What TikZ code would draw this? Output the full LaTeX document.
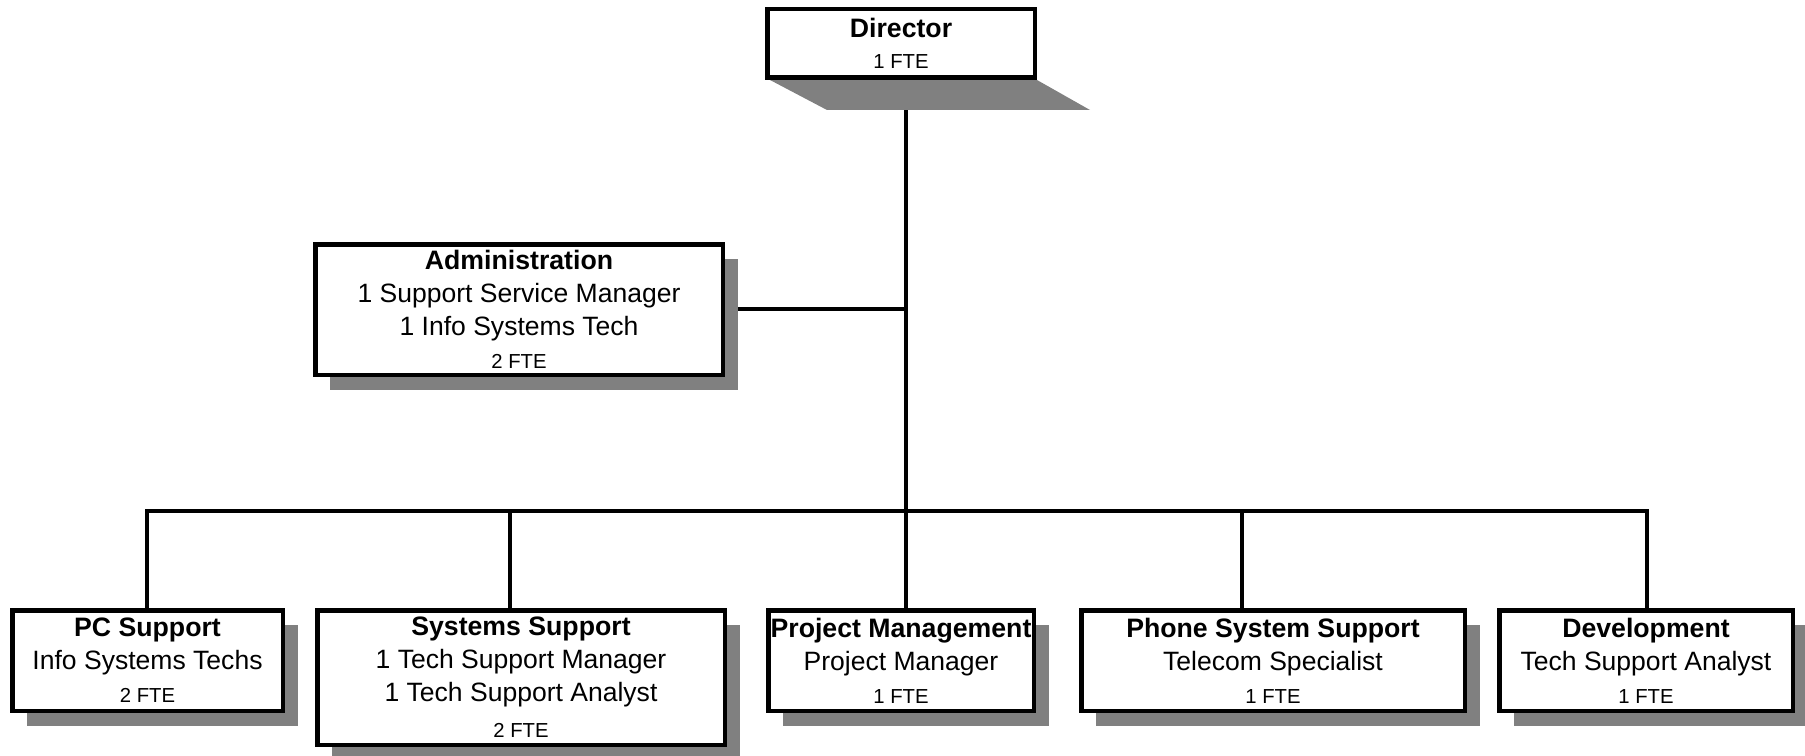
\documentclass[tikz,border=0pt]{standalone}
\usepackage{fontspec}
\setmainfont{Liberation Sans}
\usetikzlibrary{shadows,backgrounds,calc}
\definecolor{shd}{HTML}{808080}
\newcommand\ttl[1]{{\fontsize{20}{24.75}\selectfont\bfseries #1}}
\newcommand\rgl[1]{{\fontsize{19.9}{24.75}\selectfont #1}}
\newcommand\fte[1]{{\fontsize{15.2}{24.75}\selectfont #1}}
\tikzset{
  boxbase/.style={draw=black, fill=white, line width=3.375pt, inner sep=0pt,
    align=center, font=\fontsize{19.9}{24.75}\selectfont},
  box/.style={boxbase, drop shadow={shadow xshift=11.25pt, shadow yshift=-11.25pt, fill=shd, opacity=1}},
  conn/.style={draw=black, line width=2.4pt},
}
\begin{document}
\begin{tikzpicture}[x=0.75pt, y=-0.75pt]
\useasboundingbox (0,0) rectangle (1805,756);
% director shadow (parallelogram)
\fill[shd] (770,80) -- (1037,80) -- (1090,110) -- (827,110) -- cycle;
\node[boxbase, minimum width=267.5*0.75pt, minimum height=68.5*0.75pt] (dir) at (901,43.5)
  {\ttl{Director}\\[-1.5pt]\fte{1 FTE}};
\node[box, minimum width=407.5*0.75pt, minimum height=130.5*0.75pt] (adm) at (519,309.5)
  {\ttl{Administration}\\\rgl{1 Support Service Manager}\\\rgl{1 Info Systems Tech}\\\fte{2 FTE}};
\node[box, minimum width=270.5*0.75pt, minimum height=100.5*0.75pt] (pc) at (147.5,660.5)
  {\ttl{PC Support}\\\rgl{Info Systems Techs}\\\fte{2 FTE}};
\node[box, minimum width=407.5*0.75pt, minimum height=134.5*0.75pt] (sys) at (521,677.5)
  {\ttl{Systems Support}\\\rgl{1 Tech Support Manager}\\\rgl{1 Tech Support Analyst}\\[2pt]\fte{2 FTE}};
\node[box, minimum width=265.5*0.75pt, minimum height=100.5*0.75pt] (pm) at (901,660.5)
  {\ttl{Project Management}\\\rgl{Project Manager}\\\fte{1 FTE}};
\node[box, minimum width=383.5*0.75pt, minimum height=100.5*0.75pt] (ph) at (1273,660.5)
  {\ttl{Phone System Support}\\\rgl{Telecom Specialist}\\\fte{1 FTE}};
\node[box, minimum width=293.5*0.75pt, minimum height=100.5*0.75pt] (dev) at (1646,660.5)
  {\ttl{Development}\\\rgl{Tech Support Analyst}\\\fte{1 FTE}};
% connector points
\coordinate (top) at (906,80);
\coordinate (ja) at (906,309);
\coordinate (jb) at (906,511);
\coordinate (b1) at (147,511);
\coordinate (b2) at (510,511);
\coordinate (b4) at (1242,511);
\coordinate (b5) at (1647,511);
\begin{pgfonlayer}{background}
\draw[conn] (top) -- (jb);
\draw[conn] (adm.east |- ja) -- (ja);
\draw[conn, line cap=rect] (b1) -- (b5);
\draw[conn] (b1) -- (b1 |- pc.north);
\draw[conn] (b2) -- (b2 |- sys.north);
\draw[conn] (jb) -- (jb |- pm.north);
\draw[conn] (b4) -- (b4 |- ph.north);
\draw[conn] (b5) -- (b5 |- dev.north);
\end{pgfonlayer}
\end{tikzpicture}
\end{document}
